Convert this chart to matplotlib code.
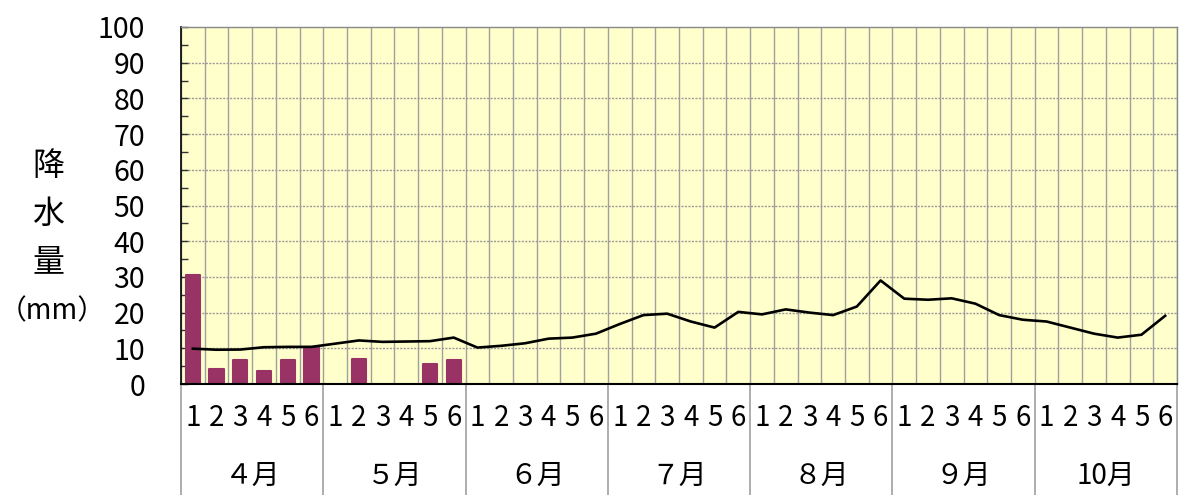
import numpy as np
import matplotlib
matplotlib.use("Agg")
import matplotlib.pyplot as plt
from matplotlib.transforms import blended_transform_factory

plt.rcParams['font.family'] = ['Noto Sans CJK JP', 'DejaVu Sans']

# 月と半旬
months = ["４月", "５月", "６月", "７月", "８月", "９月", "10月"]
pentads = ["1", "2", "3", "4", "5", "6"]

# 降水量（観測）: 最初の12区間のみ、None は欠測
rain = [30.5, 4.1, 6.7, 3.6, 6.7, 10.3, None, 7.1, None, None, 5.6, 6.7]

# 平年値
normal = [9.9, 9.6, 9.65, 10.3, 10.4, 10.4,
          11.3, 12.2, 11.8, 11.9, 12.0, 13.0,
          10.2, 10.7, 11.4, 12.7, 13.0, 14.1,
          16.8, 19.3, 19.7, 17.5, 15.8, 20.2,
          19.5, 20.9, 20.0, 19.3, 21.7, 29.0,
          23.9, 23.6, 24.0, 22.5, 19.3, 18.0,
          17.5, 15.8, 14.1, 13.0, 13.8, 19.1]

n = len(months) * len(pentads)
x = np.arange(n)

fig = plt.figure(figsize=(11.8, 4.95), dpi=100)
ax = fig.add_axes([181 / 1180, 1 - 384 / 495, 996 / 1180, 357 / 495])
ax.set_facecolor("#FFFFCC")

# 格子
for k in range(n + 1):
    ax.axvline(k - 0.5, color="#a0a0a0", lw=1, zorder=1)
for v in range(10, 100, 10):
    ax.axhline(v, color="#999999", lw=1, ls=(0, (1.5, 1)), zorder=1)

# 棒グラフ
bx = [i for i, r in enumerate(rain) if r is not None]
by = [r for r in rain if r is not None]
ax.bar(bx, by, width=0.6, color="#993366", edgecolor="#993366",
       lw=1.5, joinstyle="round", zorder=2)

# 平年値の折れ線
ax.plot(x, normal, color="black", lw=1.9, zorder=3)

ax.set_xlim(-0.5, n - 0.5)
ax.set_ylim(0, 100)

ax.set_yticks(range(0, 101, 10))
ax.set_yticks(range(5, 100, 10), minor=True)
ax.tick_params(axis="y", which="both", direction="in", length=5,
               width=1, color="#333333", labelsize=20.5, pad=26)
ax.set_xticks([])

for side in ["top", "right"]:
    ax.spines[side].set_color("#888888")
    ax.spines[side].set_linewidth(1)
ax.spines["left"].set_color("black")
ax.spines["bottom"].set_color("black")
ax.spines["left"].set_linewidth(1.2)
ax.spines["bottom"].set_linewidth(1.5)

# 下の区切り線とラベル
trans = blended_transform_factory(ax.transData, ax.transAxes)
for m in range(len(months) + 1):
    ax.plot([m * 6 - 0.5, m * 6 - 0.5], [0, -111 / 357], color="#a0a0a0",
            lw=1.2, transform=trans, clip_on=False)
for i in range(n):
    ax.text(i, -34 / 357, pentads[i % 6], transform=trans, ha="center",
            va="center", fontsize=20)
for m, name in enumerate(months):
    ax.text(m * 6 + 2.5, -92 / 357, name, transform=trans, ha="center",
            va="center", fontsize=20)

# 縦軸ラベル
for ch, yy in zip(["降", "水", "量"], [166, 214, 262]):
    fig.text(48 / 1180, 1 - yy / 495, ch, ha="center", va="center", fontsize=23)
fig.text(52 / 1180, 1 - 311 / 495, "（mm）", ha="center", va="center",
         fontsize=20)

plt.savefig("out.png", dpi=100)
